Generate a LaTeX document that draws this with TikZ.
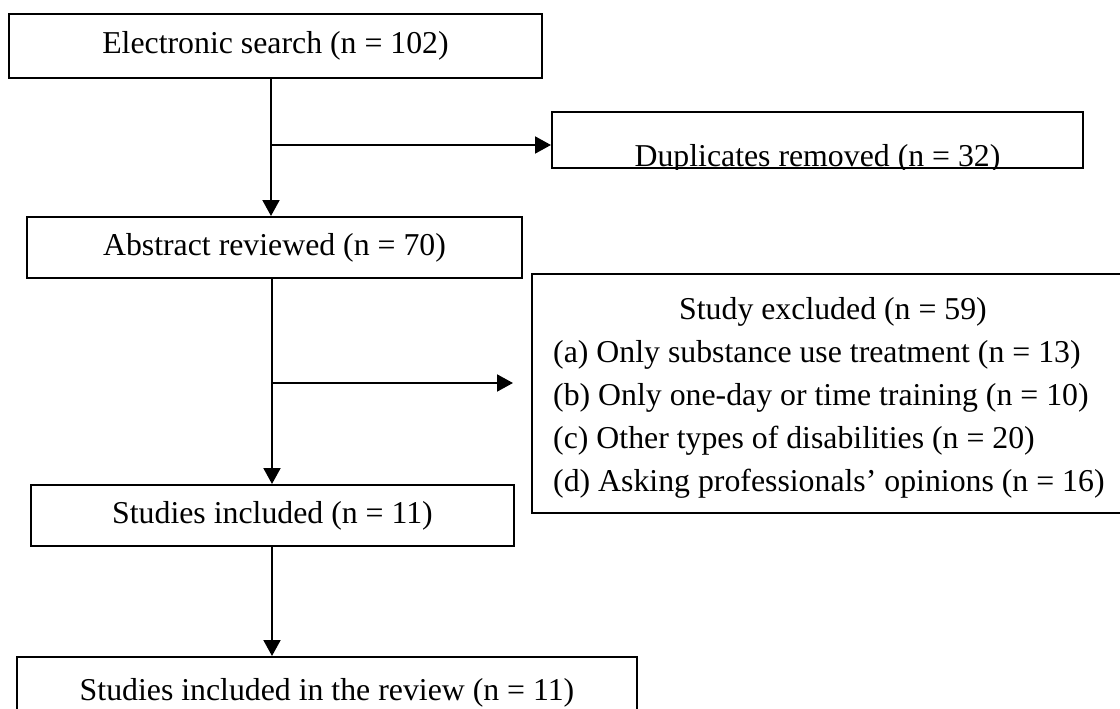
\documentclass[tikz,border=0pt]{standalone}
\usepackage{fontspec}
\setmainfont{Liberation Serif}
\usetikzlibrary{arrows.meta}
\begin{document}
\begin{tikzpicture}[x=1pt,y=-1pt,
  boxstyle/.style={draw=black,line width=2pt,inner sep=0pt,
    font=\fontsize{31.8}{38}\selectfont},
  txt/.style={inner sep=0pt,font=\fontsize{31.8}{38}\selectfont},
  arr/.style={line width=2pt,-{Triangle[length=16pt,width=17pt]}}]
\clip (0,0) rectangle (1120,709);
\fill[white] (0,0) rectangle (1120,709);
% boxes
\node[boxstyle,minimum width=533pt,minimum height=64pt] (b1) at (275.5,46) {Electronic search (n = 102)};
\node[boxstyle,minimum width=531pt,minimum height=56pt] (dup) at (817.5,140) {};
\begin{scope}
  \clip (dup.south west) rectangle (dup.north east);
  \node[txt,anchor=base] (dupt) at (817.5,166) {Duplicates removed (n = 32)};
\end{scope}
\node[boxstyle,minimum width=495pt,minimum height=61pt] (b2) at (274.5,247.5) {Abstract reviewed (n = 70)};
\node[boxstyle,minimum width=602pt,minimum height=239pt] (excl) at (833,393.5) {};
\node[txt,anchor=base] (ext) at (833,319) {Study excluded (n = 59)};
\node[txt,anchor=base west] (exa) at (553,362) {(a) Only substance use treatment (n = 13)};
\node[txt,anchor=base west] (exb) at (553,405) {(b) Only one-day or time training (n = 10)};
\node[txt,anchor=base west] (exc) at (553,448) {(c) Other types of disabilities (n = 20)};
\node[txt,anchor=base west] (exd) at (553,491) {(d) Asking professionals’ opinions (n = 16)};
\node[boxstyle,minimum width=483pt,minimum height=61pt] (b4) at (272.5,515.5) {Studies included (n = 11)};
\node[boxstyle,minimum width=620pt,minimum height=81pt] (rev) at (327,697.5) {};
\node[txt,anchor=base] (revt) at (327,700) {Studies included in the review (n = 11)};
% connectors
\coordinate (j1) at (271,145);
\coordinate (j2) at (272,383);
\coordinate (e2) at (513,383);
\draw[arr] (b1.south -| j1) -- (b2.north -| j1);
\draw[arr] (j1) -- (dup.west |- j1);
\draw[arr] (b2.south -| j2) -- (b4.north -| j2);
\draw[arr] (j2) -- (e2);
\draw[arr] (b4.south -| j2) -- (rev.north -| j2);
\end{tikzpicture}
\end{document}
